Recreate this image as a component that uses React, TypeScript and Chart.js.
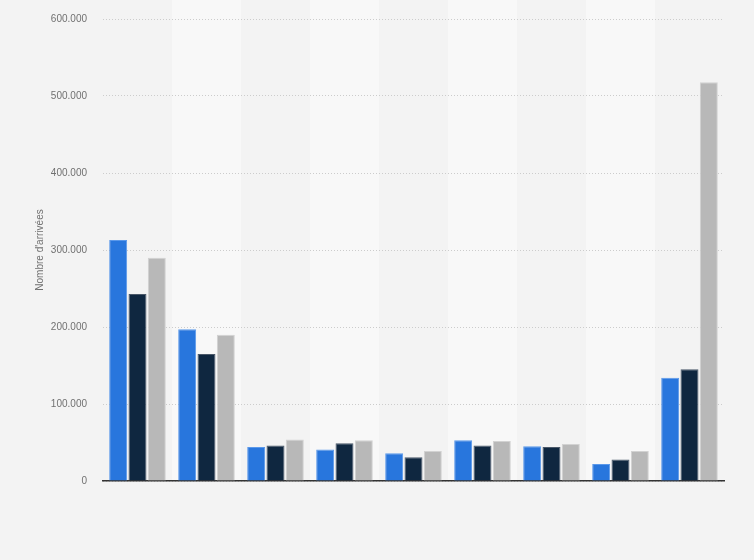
import React, { useEffect, useRef } from "react";
import { Chart, registerables } from "chart.js";

Chart.register(...registerables);

const categories = ["A", "B", "C", "D", "E", "F", "G", "H", "I"];
const seriesNames = ["Série 1", "Série 2", "Série 3"];
const series1 = [313000, 197000, 44000, 41000, 36000, 53000, 45000, 22000, 134000];
const series2 = [243000, 165000, 46000, 49000, 31000, 46000, 44000, 28000, 145000];
const series3 = [290000, 190000, 54000, 53000, 39000, 52000, 48000, 39000, 518000];
const yTicks = [0, 100000, 200000, 300000, 400000, 500000, 600000];
const yTitle = "Nombre d'arrivées";

const fmt = (v: number) => String(Math.round(v)).replace(/\B(?=(\d{3})+(?!\d))/g, ".");

const bgPlugin = {
  id: "bgBands",
  beforeDraw(chart: any) {
    const { ctx, chartArea, scales } = chart;
    ctx.save();
    ctx.fillStyle = "#f3f3f3";
    ctx.fillRect(0, 0, chart.width, chart.height);
    const x = scales.x;
    const n = categories.length;
    const w = (chartArea.right - chartArea.left) / n;
    ctx.fillStyle = "#f8f8f8";
    for (let i = 1; i < n; i += 2) {
      const c = x.getPixelForValue(i);
      ctx.fillRect(Math.round(c - w / 2), 0, Math.round(w), chartArea.bottom);
    }
    ctx.restore();
  },
};

export default function App() {
  const ref = useRef<HTMLCanvasElement>(null);
  useEffect(() => {
    document.body.style.margin = "0";
    document.body.style.background = "#f3f3f3";
    const chart = new Chart(ref.current!, {
      type: "bar",
      data: {
        labels: categories,
        datasets: [
          {
            label: seriesNames[0],
            data: series1,
            backgroundColor: "#2876dd",
            borderColor: "#5a98ea",
            borderWidth: { top: 1, left: 1, right: 1, bottom: 0 },
            borderSkipped: "bottom",
          },
          {
            label: seriesNames[1],
            data: series2,
            backgroundColor: "#0f2740",
            borderColor: "#4a5869",
            borderWidth: { top: 1, left: 1, right: 1, bottom: 0 },
            borderSkipped: "bottom",
          },
          {
            label: seriesNames[2],
            data: series3,
            backgroundColor: "#b8b8b8",
            borderColor: "#d2d2d2",
            borderWidth: { top: 1, left: 1, right: 1, bottom: 0 },
            borderSkipped: "bottom",
          },
        ],
      },
      options: {
        animation: false,
        responsive: false,
        maintainAspectRatio: false,
        categoryPercentage: 0.84,
        barPercentage: 0.93,
        layout: { autoPadding: false, padding: { left: 34, right: 30, top: 19, bottom: 79 } },
        plugins: {
          legend: { display: false },
          tooltip: { enabled: false },
        },
        scales: {
          x: {
            grid: { display: false, drawTicks: false },
            border: { display: true, color: "#333333", width: 1.5 },
            ticks: { display: false },
            afterFit: (s: any) => {
              s.height = 0;
            },
          },
          y: {
            min: 0,
            max: 600000,
            afterBuildTicks: (s: any) => {
              s.ticks = yTicks.map((v) => ({ value: v }));
            },
            afterFit: (s: any) => {
              s.width = 69;
              s.paddingTop = 0;
              s.paddingBottom = 0;
            },
            grid: { color: "#cccccc", drawTicks: false, lineWidth: 1 },
            border: { display: false, dash: [1, 2] },
            ticks: {
              padding: 16,
              color: "#707070",
              font: { family: "Liberation Sans", size: 10 },
              callback: (v: any) => fmt(Number(v)),
            },
            title: {
              display: true,
              text: yTitle,
              color: "#707070",
              font: { family: "Liberation Sans", size: 10 },
              padding: 0,
            },
          },
        },
      },
      plugins: [bgPlugin],
    });
    return () => chart.destroy();
  }, []);
  return <canvas ref={ref} width={754} height={560} style={{ display: "block", width: 754, height: 560 }} />;
}
